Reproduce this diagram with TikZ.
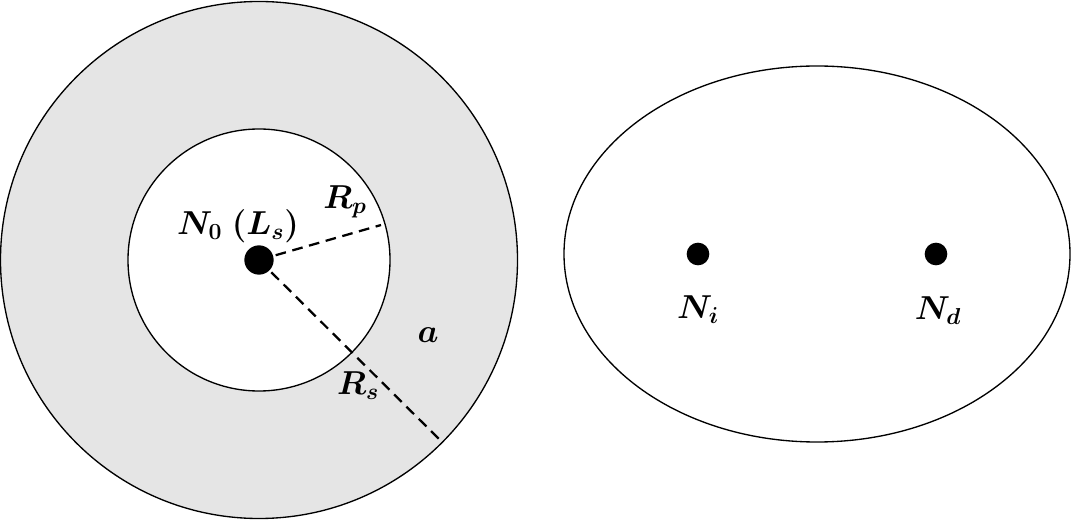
\documentclass[tikz,border=0pt]{standalone}
\begin{document}
\begin{tikzpicture}[x=0.75pt,y=-0.75pt,
  outline/.style={draw=black,line width=1pt},
  dot/.style={circle,fill=black,inner sep=0pt},
  radius line/.style={draw=black,line width=1.7pt,dash pattern=on 8pt off 5pt},
  lbl/.style={font=\fontsize{24}{28}\selectfont\boldmath,inner sep=0pt}]
\useasboundingbox (0,0) rectangle (1071,520);
% left annulus
\filldraw[outline,fill=black!10] (259,260) circle [radius=258.5];
\filldraw[outline,fill=white] (259,260) circle [radius=131];
% right ellipse
\draw[outline] (817,254) ellipse [x radius=253,y radius=188];
% points
\node[dot,minimum size=22] (n0) at (259,260) {};
\node[dot,minimum size=17] (ni) at (698,254) {};
\node[dot,minimum size=17] (nd) at (936,254) {};
\coordinate (rp) at (381,225);
\coordinate (rs) at (440,440);
\draw[radius line] (n0.center) -- (rp);
\draw[radius line] (n0.center) -- (rs);
% labels
\node[lbl] (ln0) at (238,226) {$N_0\ (L_s)$};
\node[lbl] (lrp) at (345,202) {$R_p$};
\node[lbl] (lrs) at (358,386) {$R_s$};
\node[lbl] (la) at (428,335) {$a$};
\node[lbl] (lni) at (698,310) {$N_i$};
\node[lbl] (lnd) at (938,311) {$N_d$};
\end{tikzpicture}
\end{document}
